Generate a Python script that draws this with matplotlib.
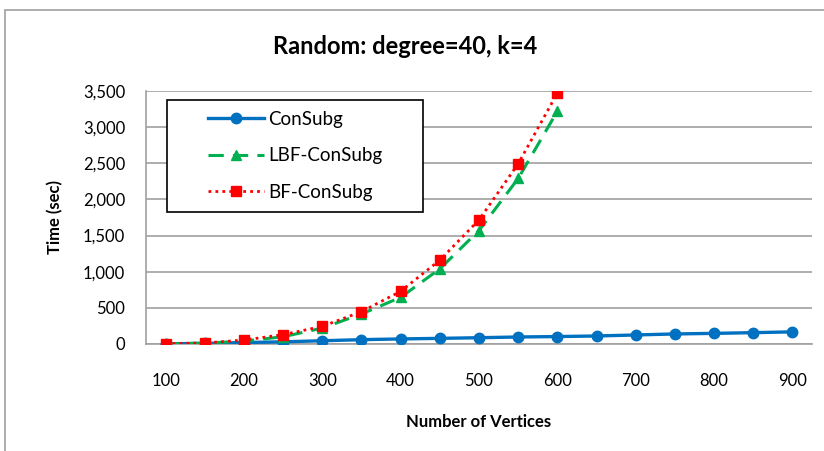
import matplotlib.pyplot as plt
from matplotlib.patches import Rectangle

vertices = list(range(100, 901, 50))
consubg = [3, 8, 20, 30, 45, 60, 70, 78, 87, 97, 103, 111, 125, 139, 147, 157, 168]
lbf_vertices = list(range(100, 601, 50))
lbf_consubg = [3, 12, 40, 100, 220, 415, 645, 1040, 1570, 2290, 3220]
bf_consubg = [5, 14, 55, 129, 244, 447, 729, 1160, 1717, 2493, 3471]

tick_labels = [str(v) if v % 100 == 0 else "" for v in vertices]

plt.rcParams['font.family'] = ['Lato', 'DejaVu Sans']

fig = plt.figure(figsize=(8.24, 4.51), dpi=100)
fig.patches.append(Rectangle((5 / 824, -0.01), 830 / 824, 1 - 10 / 451 + 0.01,
                             transform=fig.transFigure, fill=False,
                             edgecolor='#a0a0a0', linewidth=1.2))
ax = fig.add_axes([146 / 824, 1 - 344 / 451, (812 - 146) / 824, (344 - 91) / 451])

idx = list(range(len(vertices)))
ax.plot(idx, consubg, color='#0070c0', linewidth=2.4, marker='o', markersize=7.5,
        label='ConSubg', zorder=3)
ax.plot(idx[:len(lbf_vertices)], lbf_consubg, color='#00b050', linewidth=2.2,
        linestyle=(0, (5, 3)), marker='^', markersize=7.5, label='LBF-ConSubg', zorder=4)
ax.plot(idx[:len(lbf_vertices)], bf_consubg, color='#ff0000', linewidth=2,
        linestyle=(0, (1, 1.5)), marker='s', markersize=7.5, label='BF-ConSubg', zorder=5)

ax.set_xlim(-0.5, len(vertices) - 0.5)
ax.set_ylim(0, 3500)
ax.set_yticks(range(0, 3501, 500))
ax.set_yticklabels([f"{v:,}" for v in range(0, 3501, 500)])
ax.set_xticks(idx)
ax.set_xticklabels(tick_labels)
ax.tick_params(axis='both', length=0, labelsize=12)
ax.tick_params(axis='x', pad=21)
ax.tick_params(axis='y', pad=15)
ax.grid(axis='y', color='#a0a0a0', linewidth=1.2)
ax.set_axisbelow(True)
for s in ['top', 'right']:
    ax.spines[s].set_visible(False)
for s in ['left', 'bottom']:
    ax.spines[s].set_color('#a0a0a0')
    ax.spines[s].set_linewidth(1.2)

ax.set_xlabel('Number of Vertices', fontsize=12, fontweight='bold', labelpad=18)
ax.set_ylabel('Time (sec)', fontsize=12, fontweight='bold', labelpad=14)
fig.text(405 / 824, 1 - 47 / 451, 'Random: degree=40, k=4', fontsize=17,
         fontweight='bold', ha='center', va='center')

# legend frame drawn separately (Excel-style wide left padding)
ax.add_patch(Rectangle(((167 - 146) / 666, (344 - 212) / 253), 256 / 666, 112 / 253,
                       transform=ax.transAxes, facecolor='white', edgecolor='black',
                       linewidth=1.2, zorder=6, clip_on=False))
leg = ax.legend(loc='upper left', bbox_to_anchor=((208 - 146) / 666, (344 - 111) / 253),
                fontsize=13.5, frameon=False, handlelength=3.0, labelspacing=1.04,
                borderpad=0, borderaxespad=0, handletextpad=0.2)
leg.set_zorder(10)

fig.savefig('out.png', dpi=100)
